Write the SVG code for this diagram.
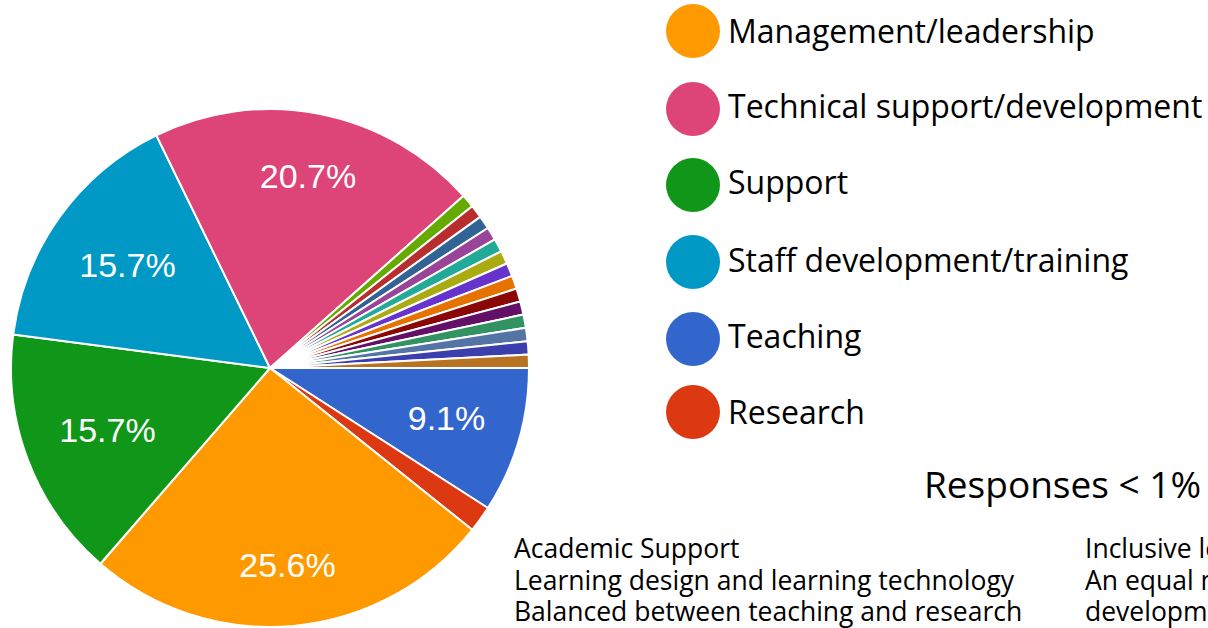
<svg xmlns="http://www.w3.org/2000/svg" width="1208" height="628" viewBox="0 0 1208 628">
<style>
.s{stroke:#fff;stroke-width:2;stroke-linejoin:round}
.pl{font-family:"Liberation Sans",Arial,sans-serif;font-size:34px;fill:#fff;text-anchor:middle}
.lg{font-family:"Open Sans","Noto Sans",sans-serif;font-size:32px;fill:#000}
.ft{font-family:"Open Sans","Noto Sans",sans-serif;font-size:26.5px;fill:#000}
.hd{font-family:"Open Sans","Noto Sans",sans-serif;font-size:37px;fill:#000}
</style>
<rect width="1208" height="628" fill="#fff"/>
<g id="pie">
<path class="s" fill="#3366cc" d="M270,368 L529,368 A259,259 0 0 1 487.88,508.03 Z"/>
<path class="s" fill="#dc3912" d="M270,368 L487.88,508.03 A259,259 0 0 1 472.22,529.83 Z"/>
<path class="s" fill="#ff9900" d="M270,368 L472.22,529.83 A259,259 0 0 1 100.39,563.74 Z"/>
<path class="s" fill="#109618" d="M270,368 L100.39,563.74 A259,259 0 0 1 13.18,334.47 Z"/>
<path class="s" fill="#0099c6" d="M270,368 L13.18,334.47 A259,259 0 0 1 156.32,135.28 Z"/>
<path class="s" fill="#dd4477" d="M270,368 L156.32,135.28 A259,259 0 0 1 463.52,195.87 Z"/>
<path class="s" fill="#66aa00" d="M270,368 L463.52,195.87 A259,259 0 0 1 472.22,206.17 Z"/>
<path class="s" fill="#b82e2e" d="M270,368 L472.22,206.17 A259,259 0 0 1 480.32,216.84 Z"/>
<path class="s" fill="#316395" d="M270,368 L480.32,216.84 A259,259 0 0 1 487.88,227.97 Z"/>
<path class="s" fill="#994499" d="M270,368 L487.88,227.97 A259,259 0 0 1 494.85,239.47 Z"/>
<path class="s" fill="#22aa99" d="M270,368 L494.85,239.47 A259,259 0 0 1 501.23,251.32 Z"/>
<path class="s" fill="#aaaa11" d="M270,368 L501.23,251.32 A259,259 0 0 1 506.97,263.48 Z"/>
<path class="s" fill="#6633cc" d="M270,368 L506.97,263.48 A259,259 0 0 1 512.08,275.91 Z"/>
<path class="s" fill="#e67300" d="M270,368 L512.08,275.91 A259,259 0 0 1 516.53,288.60 Z"/>
<path class="s" fill="#8b0707" d="M270,368 L516.53,288.60 A259,259 0 0 1 520.32,301.51 Z"/>
<path class="s" fill="#651067" d="M270,368 L520.32,301.51 A259,259 0 0 1 523.43,314.59 Z"/>
<path class="s" fill="#329262" d="M270,368 L523.43,314.59 A259,259 0 0 1 525.86,327.81 Z"/>
<path class="s" fill="#5574a6" d="M270,368 L525.86,327.81 A259,259 0 0 1 527.60,341.15 Z"/>
<path class="s" fill="#3b3eac" d="M270,368 L527.60,341.15 A259,259 0 0 1 528.65,354.56 Z"/>
<path class="s" fill="#b77322" d="M270,368 L528.65,354.56 A259,259 0 0 1 529,368 Z"/>
<text class="pl" x="308" y="188">20.7%</text>
<text class="pl" x="127.5" y="277">15.7%</text>
<text class="pl" x="107.5" y="442">15.7%</text>
<text class="pl" x="446.5" y="430">9.1%</text>
<text class="pl" x="287.5" y="577">25.6%</text>
</g>
<g id="legend">
<g id="lg-management"><circle cx="693" cy="31" r="27" fill="#ff9900"/><text class="lg" x="728" y="43">Management/leadership</text></g>
<g id="lg-technical"><circle cx="693" cy="109" r="27" fill="#dd4477"/><text class="lg" x="728" y="118">Technical support/development</text></g>
<g id="lg-support"><circle cx="693" cy="185" r="27" fill="#109618"/><text class="lg" x="728" y="194">Support</text></g>
<g id="lg-staff"><circle cx="693" cy="262" r="27" fill="#0099c6"/><text class="lg" x="728" y="272">Staff development/training</text></g>
<g id="lg-teaching"><circle cx="693" cy="339" r="27" fill="#3366cc"/><text class="lg" x="728" y="348">Teaching</text></g>
<g id="lg-research"><circle cx="693" cy="412" r="27" fill="#dc3912"/><text class="lg" x="728" y="424">Research</text></g>
</g>
<g id="small-responses">
<text class="hd" x="924" y="498">Responses &lt; 1%</text>
<text class="ft" x="514" y="558">Academic Support</text>
<text class="ft" x="514" y="590">Learning design and learning technology</text>
<text class="ft" x="514" y="621">Balanced between teaching and research</text>
<text class="ft" x="1085" y="558">Inclusive le</text>
<text class="ft" x="1085" y="590">An equal m</text>
<text class="ft" x="1085" y="621">developm</text>
</g>
</svg>
